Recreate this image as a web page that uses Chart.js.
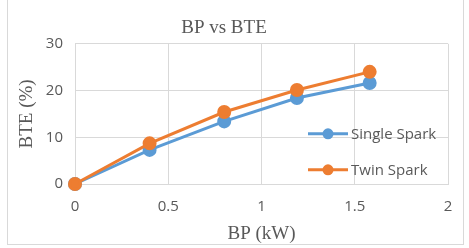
<!DOCTYPE html>
<html>
<head>
<meta charset="utf-8">
<script src="https://cdn.jsdelivr.net/npm/chart.js@4/dist/chart.umd.min.js"></script>
<style>
  html, body { margin: 0; padding: 0; background: #fff; }
  #wrap { position: relative; width: 469px; height: 248px; }
  #frame { position: absolute; left: 7px; top: -1px; width: 457px; height: 246px;
           border: 1px solid #d9d9d9; box-sizing: border-box; }
  canvas { position: absolute; left: 0; top: 0; }
</style>
</head>
<body>
<div id="wrap">
  <div id="frame"></div>
  <canvas id="bte-chart" width="469" height="248"></canvas>
</div>
<script>
const bp = [0, 0.4, 0.8, 1.19, 1.58];
const singleSpark = [0, 7.3, 13.4, 18.4, 21.6];
const twinSpark = [0, 8.7, 15.4, 20.1, 24.0];
const seriesLabels = ['Single Spark', 'Twin Spark'];
const seriesColors = ['#5b9bd5', '#ed7d31'];

const gray = '#595959';
const gridColor = '#d9d9d9';

const toPoints = ys => bp.map((x, i) => ({ x: x, y: ys[i] }));

// legend drawn inside the plot, Excel style
const insideLegend = {
  id: 'insideLegend',
  afterDraw(chart) {
    const ctx = chart.ctx;
    const area = chart.chartArea;
    const x0 = area.left + 233;
    const rows = [area.top + 90, area.top + 126];
    ctx.save();
    ctx.font = '15px "Open Sans"';
    ctx.textBaseline = 'middle';
    seriesLabels.forEach((label, i) => {
      const y = rows[i];
      ctx.strokeStyle = seriesColors[i];
      ctx.lineWidth = 3;
      ctx.beginPath();
      ctx.moveTo(x0, y);
      ctx.lineTo(x0 + 40, y);
      ctx.stroke();
      ctx.fillStyle = seriesColors[i];
      ctx.beginPath();
      ctx.arc(x0 + 20, y, 5.5, 0, Math.PI * 2);
      ctx.fill();
      ctx.fillStyle = gray;
      ctx.fillText(label, x0 + 43, y + 1);
    });
    ctx.restore();
  }
};

const bteChart = new Chart(document.getElementById('bte-chart'), {
  type: 'line',
  data: {
    datasets: [
      {
        label: seriesLabels[0],
        data: toPoints(singleSpark),
        borderColor: seriesColors[0],
        backgroundColor: seriesColors[0],
        borderWidth: 3,
        pointRadius: 5.5,
        pointHoverRadius: 5.5,
        clip: false,
        order: 1
      },
      {
        label: seriesLabels[1],
        data: toPoints(twinSpark),
        borderColor: seriesColors[1],
        backgroundColor: seriesColors[1],
        borderWidth: 3,
        pointRadius: 5.5,
        pointHoverRadius: 5.5,
        clip: false,
        order: 0
      }
    ]
  },
  options: {
    responsive: false,
    animation: false,
    layout: { padding: { left: 0, right: 21, top: 0, bottom: 0 } },
    plugins: {
      legend: { display: false },
      tooltip: { enabled: false },
      title: {
        display: true,
        text: 'BP vs BTE',
        color: gray,
        font: { family: '"Liberation Serif"', size: 19, weight: 'normal' },
        padding: { top: 17, bottom: 4 }
      }
    },
    scales: {
      x: {
        type: 'linear',
        min: 0,
        max: 2,
        ticks: {
          stepSize: 0.5,
          color: gray,
          font: { family: '"Open Sans"', size: 15 },
          padding: 14,
          callback: v => String(v)
        },
        grid: { color: gridColor, drawTicks: false },
        border: { color: gridColor },
        title: {
          display: true,
          text: 'BP (kW)',
          color: gray,
          font: { family: '"Liberation Serif"', size: 19 },
          padding: { top: 0, bottom: 3 }
        },
        afterFit(scale) { scale.height = 64; }
      },
      y: {
        min: 0,
        max: 30,
        ticks: {
          stepSize: 10,
          color: gray,
          font: { family: '"Open Sans"', size: 15 },
          padding: 12
        },
        grid: { color: gridColor, drawTicks: false },
        border: { color: gridColor },
        title: {
          display: true,
          text: 'BTE (%)',
          color: gray,
          font: { family: '"Liberation Serif"', size: 19 },
          padding: { top: 16, bottom: 0 }
        },
        afterFit(scale) { scale.width = 75; }
      }
    }
  },
  plugins: [insideLegend]
});
</script>
</body>
</html>
